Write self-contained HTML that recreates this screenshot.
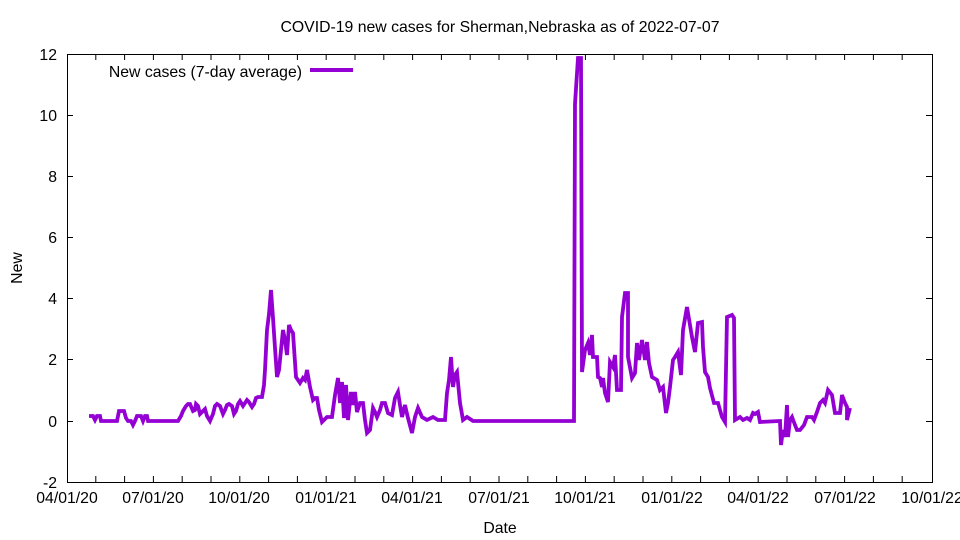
<!DOCTYPE html>
<html><head><meta charset="utf-8"><style>
html,body{margin:0;padding:0;background:#fff;}
svg{display:block;font-family:"Liberation Sans",sans-serif;}
</style></head><body>
<svg width="960" height="540" viewBox="0 0 960 540">
<rect width="960" height="540" fill="#fff"/>
<text x="500" y="32" font-size="15.8" text-anchor="middle">COVID-19 new cases for Sherman,Nebraska as of 2022-07-07</text>
<g stroke="#000" stroke-width="1" fill="none">
<rect x="67.5" y="54.5" width="865" height="428"/>
<path d="M67 115.5h6M932 115.5h-6M67 176.5h6M932 176.5h-6M67 237.5h6M932 237.5h-6M67 298.5h6M932 298.5h-6M67 359.5h6M932 359.5h-6M67 421.5h6M932 421.5h-6"/>
<path d="M95.8 482v-6M124.6 482v-6M153.4 482v-6M182.2 482v-6M211 482v-6M239.8 482v-6M268.6 482v-6M297.4 482v-6M326.2 482v-6M355 482v-6M383.8 482v-6M412.6 482v-6M441.4 482v-6M470.2 482v-6M499 482v-6M527.8 482v-6M556.6 482v-6M585.4 482v-6M614.2 482v-6M643 482v-6M671.8 482v-6M700.6 482v-6M729.4 482v-6M758.2 482v-6M787 482v-6M815.8 482v-6M844.6 482v-6M873.4 482v-6M902.2 482v-6"/>
<path d="M95.8 54v6M124.6 54v6M153.4 54v6M182.2 54v6M211 54v6M239.8 54v6M268.6 54v6M297.4 54v6M326.2 54v6M355 54v6M383.8 54v6M412.6 54v6M441.4 54v6M470.2 54v6M499 54v6M527.8 54v6M556.6 54v6M585.4 54v6M614.2 54v6M643 54v6M671.8 54v6M700.6 54v6M729.4 54v6M758.2 54v6M787 54v6M815.8 54v6M844.6 54v6M873.4 54v6M902.2 54v6"/>
</g>
<g font-size="15.8" text-anchor="end">
<text x="57" y="60">12</text><text x="57" y="121">10</text><text x="57" y="182">8</text><text x="57" y="243">6</text><text x="57" y="304">4</text><text x="57" y="365">2</text><text x="57" y="427">0</text><text x="57" y="488">-2</text>
</g>
<g font-size="15.8" text-anchor="middle">
<text x="67" y="503">04/01/20</text><text x="153" y="503">07/01/20</text><text x="239" y="503">10/01/20</text><text x="326" y="503">01/01/21</text><text x="412" y="503">04/01/21</text><text x="499" y="503">07/01/21</text><text x="585" y="503">10/01/21</text><text x="672" y="503">01/01/22</text><text x="758" y="503">04/01/22</text><text x="845" y="503">07/01/22</text><text x="932" y="503">10/01/22</text>
<text x="500" y="533">Date</text>
<text x="22" y="268" transform="rotate(-90 22 268)">New</text>
</g>
<text x="302" y="77" font-size="15.8" text-anchor="end">New cases (7-day average)</text>
<line x1="310" y1="70" x2="353" y2="70" stroke="#9400d3" stroke-width="4"/>
<polyline fill="none" stroke="#9400d3" stroke-width="3.8" stroke-linejoin="miter" points="
89,416 93,416 95,420 97,416 100,416 101,421 117,421 119,411 124,411 126,418 128,421 131,421 133,425 135,421 137,416 141,416 143,421 145,416 147,416 148,421 178,421 181,416 183,411 186,406 188,404 190,404 193,411 195,410 196,404 198,406 200,414 203,411 205,409 207,416 210,421 213,414 215,406 217,404 220,406 223,414 225,410 227,405 229,404 232,406 234,414 236,411 238,404 240,401 243,406 245,403 247,400 249,402 252,407 254,404 256,398 258,397 262,397 264,385 265,370 267,330 269,314 271,290 273,318 275,348 277,377 279,370 281,350 283,330 285,340 287,355 289,325 291,330 293,333 296,377 300,383 303,378 305,380 307,370 310,387 313,400 315,398 317,398 319,410 322,422 327,417 332,417 335,395 338,378 340,403 342,382 344,418 346,385 348,420 351,392 353,405 355,392 357,412 360,403 363,403 365,420 367,433 370,430 373,408 375,412 377,417 380,410 382,403 385,403 388,413 392,415 395,398 398,392 400,405 402,417 405,405 408,418 412,433 415,417 418,408 422,417 427,420 433,417 438,420 445,420 447,393 449,380 451,357 453,387 455,375 457,372 460,403 463,420 467,417 473,421 574,421 575,104 578,58 581,58 582,372 585,350 588,343 590,355 592,335 593,357 597,357 598,377 600,378 602,387 603,378 605,393 608,402 610,362 613,367 615,355 617,390 621,390 622,317 625,293 628,293 628,357 632,378 635,373 637,343 639,360 642,340 645,360 647,342 649,363 652,377 657,380 660,390 663,387 666,413 668,403 670,387 673,360 675,357 678,352 681,375 683,330 687,307 692,337 695,352 698,323 702,322 703,347 705,372 708,377 710,388 714,403 718,403 722,417 725,422 727,317 732,315 734,318 735,420 740,417 743,420 747,418 750,420 753,413 755,414 758,412 760,422 780,421 781,445 783,430 785,437 787,405 788,437 790,420 792,417 795,425 797,430 800,430 804,425 807,417 812,417 814,420 817,412 820,403 823,400 825,403 828,390 832,395 835,413 840,413 842,395 845,403 847,407 847,420 850,408"/>
</svg>
</body></html>
